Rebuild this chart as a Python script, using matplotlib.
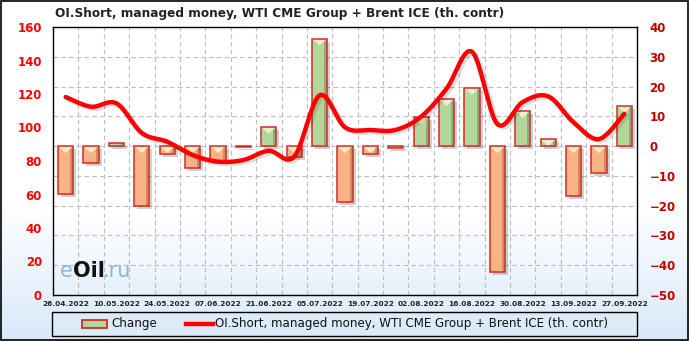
import numpy as np
import matplotlib.pyplot as plt
from matplotlib.patches import Rectangle, Polygon
from matplotlib.lines import Line2D
from matplotlib.colors import LinearSegmentedColormap

# weekly report dates
dates = ['26.04.2022', '03.05.2022', '10.05.2022', '17.05.2022', '24.05.2022',
         '31.05.2022', '07.06.2022', '14.06.2022', '21.06.2022', '28.06.2022',
         '05.07.2022', '12.07.2022', '19.07.2022', '26.07.2022', '02.08.2022',
         '09.08.2022', '16.08.2022', '23.08.2022', '30.08.2022', '06.09.2022',
         '13.09.2022', '20.09.2022', '27.09.2022']

# OI short, managed money (th. contracts) - left axis
oi_short = [118.2, 112.4, 114.4, 96.7, 91.5, 83.6, 79.6, 80.6, 86.1, 82.6,
            119.2, 100.1, 98.5, 98.6, 106.5, 123.2, 145.2, 102.1, 115.2,
            118.6, 103.1, 93.1, 108.1]

# weekly change - right axis
change = [-16.2, -5.6, 1.2, -20.1, -2.7, -7.5, -5.0, -0.3, 6.5, -3.6,
          36.1, -18.7, -2.8, -0.5, 9.7, 15.8, 19.6, -42.4, 11.9, 2.3,
          -16.8, -8.9, 13.6]

title = 'OI.Short, managed money, WTI CME Group + Brent ICE (th. contr)'
line_label = 'OI.Short, managed money, WTI CME Group + Brent ICE (th. contr)'


def smooth(y, n=24):
    """catmull-rom curve through the points (like excel smoothed line)"""
    y = np.asarray(y, dtype=float)
    x = np.arange(len(y), dtype=float)
    px = np.concatenate([[x[0]], x, [x[-1]]])
    py = np.concatenate([[y[0]], y, [y[-1]]])
    xs, ys = [], []
    t = np.linspace(0, 1, n)
    for i in range(1, len(px) - 2):
        for p, out in ((px, xs), (py, ys)):
            p0, p1, p2, p3 = p[i - 1], p[i], p[i + 1], p[i + 2]
            out.append(0.5 * ((2 * p1) + (-p0 + p2) * t +
                              (2 * p0 - 5 * p1 + 4 * p2 - p3) * t ** 2 +
                              (-p0 + 3 * p1 - 3 * p2 + p3) * t ** 3))
    return np.concatenate(xs), np.concatenate(ys)


W, H = 689, 341
fig = plt.figure(figsize=(W / 100, H / 100), dpi=100)

# figure background gradient (white on top, light blue at the bottom)
bg = fig.add_axes([0, 0, 1, 1], zorder=-10)
grad = np.linspace(0, 1, 256)[:, None]
grad = np.clip((grad - 0.6) / 0.4, 0, 1)
cmap_bg = LinearSegmentedColormap.from_list('bg', ['#FFFFFF', '#D8E9FA'])
bg.imshow(grad, aspect='auto', cmap=cmap_bg, extent=(0, 1, 0, 1))
bg.set_xlim(0, 1)
bg.set_ylim(0, 1)
bg.axis('off')
bg.add_patch(Rectangle((0.002, 0.003), 0.996, 0.994, fill=False,
                       edgecolor='black', lw=1.2, transform=bg.transAxes))

x0, x1 = 53 / W, 637 / W
y0, y1 = 1 - 295 / H, 1 - 27 / H
ax = fig.add_axes([x0, y0, x1 - x0, y1 - y0])
ax2 = ax.twinx()
n = len(dates)
xs = np.arange(n)
ax.set_xlim(-0.5, n - 0.5)
ax.set_ylim(-50, 40)
ax2.set_ylim(0, 160)

# plot area gradient
grad2 = np.clip((np.linspace(0, 1, 256)[:, None] - 0.7) / 0.3, 0, 1)
cmap_pa = LinearSegmentedColormap.from_list('pa', ['#FFFFFF', '#E6F1FC'])
ax.imshow(grad2, aspect='auto', cmap=cmap_pa, extent=(-0.5, n - 0.5, -50, 40),
          zorder=0)

# grid
for gy in range(-40, 40, 10):
    ax.axhline(gy, color='#BBBBBB', lw=0.8, ls=(0, (4, 3)), zorder=1)
for gx in np.arange(0.5, n - 0.5, 1):
    ax.axvline(gx, color='#BBBBBB', lw=0.8, ls=(0, (4, 3)), zorder=1)

# bars with shadow and bevel highlight
bw = 0.6
px_x = 25.4   # pixels per category
px_y = 2.98   # pixels per unit
for i, v in enumerate(change):
    pos = v >= 0
    face = '#B3D69A' if pos else '#F7B384'
    dark = '#6E8E58' if pos else '#B06A40'
    bottom = min(0, v)
    h = abs(v)
    # shadow
    ax.add_patch(Rectangle((i - bw / 2 + 3 / px_x, bottom - 3 / px_y), bw, h,
                           facecolor='#000000', alpha=0.18, lw=0, zorder=2))
    ax.add_patch(Rectangle((i - bw / 2, bottom), bw, h, facecolor=face,
                           edgecolor='none', zorder=3))
    # darker right strip
    ax.add_patch(Rectangle((i + bw / 2 - 3 / px_x, bottom), 3 / px_x, h,
                           facecolor=dark, alpha=0.55, lw=0, zorder=3))
    top = max(0, v)
    tri_h = min(7 / px_y, h)
    if h > 1.5:
        ax.add_patch(Polygon([(i - bw / 2, top), (i + bw / 2, top),
                              (i, top - tri_h)], closed=True,
                             facecolor='#FFF6D8', alpha=0.8, lw=0, zorder=3))
    ax.add_patch(Rectangle((i - bw / 2, bottom), bw, h, facecolor='none',
                           edgecolor='#D42A2A', lw=1.1, zorder=4))

# right axis: change
ax.yaxis.tick_right()
ax.set_yticks(np.arange(-50, 41, 10))
ax.tick_params(axis='y', length=0, pad=9, labelcolor='#C00000',
               labelsize=8.5, left=False, labelleft=False,
               right=True, labelright=True)
for lab in ax.get_yticklabels():
    lab.set_fontweight('bold')
ax.set_xticks(xs[::2])
ax.set_xticklabels(dates[::2], fontsize=5.3, fontweight='bold', color='#222222')
ax.tick_params(axis='x', length=0, pad=4)
for s in ax.spines.values():
    s.set_color('black')
    s.set_linewidth(1)

# left axis: OI short line
ax2.yaxis.tick_left()
ax2.set_yticks(np.arange(0, 161, 20))
ax2.tick_params(axis='y', length=0, pad=8, labelcolor='#FF0000',
                labelsize=8.5, left=True, labelleft=True,
                right=False, labelright=False)
for lab in ax2.get_yticklabels():
    lab.set_fontweight('bold')
sx, sy = smooth(oi_short)
ax2.plot(sx + 0.1, sy - 1.2, color='#000000', lw=3.5, alpha=0.12,
         solid_capstyle='round')
ax2.plot(sx, sy, color='#FF0000', lw=3.2, solid_capstyle='round',
         solid_joinstyle='round', zorder=5)
for s in ax2.spines.values():
    s.set_visible(False)

# title
fig.text(55 / W, 1 - 14 / H, title, fontsize=8.7, fontweight='bold',
         color='#222222', va='center', ha='left')

# watermark
fig.text(60 / W, 1 - 271 / H, 'e', fontsize=15, color='#86B8E2',
         va='center', ha='left')
fig.text(73 / W, 1 - 271 / H, 'Oil', fontsize=15, color='#111111',
         va='center', ha='left', fontweight='bold')
fig.text(103 / W, 1 - 271 / H, '.ru', fontsize=15, color='#86B8E2',
         va='center', ha='left')

# legend box
bg.add_patch(Rectangle((52 / W, 1 - 336 / H), 585 / W, 24 / H,
                       facecolor='#DDEBF8', edgecolor='black', lw=1,
                       transform=bg.transAxes))
bg.add_patch(Rectangle((82 / W, 1 - 328 / H), 25 / W, 8 / H,
                       facecolor='#B3D69A', edgecolor='#D42A2A', lw=1.3,
                       transform=bg.transAxes))
fig.text(111 / W, 1 - 324 / H, 'Change', fontsize=8.6, va='center',
         ha='left', color='#111111')
bg.add_line(Line2D([186 / W, 213 / W], [1 - 324 / H, 1 - 324 / H],
                   color='#FF0000', lw=3.2, transform=bg.transAxes))
fig.text(215 / W, 1 - 324 / H, line_label, fontsize=8.6, va='center',
         ha='left', color='#111111')

fig.savefig('out.png', dpi=100)
